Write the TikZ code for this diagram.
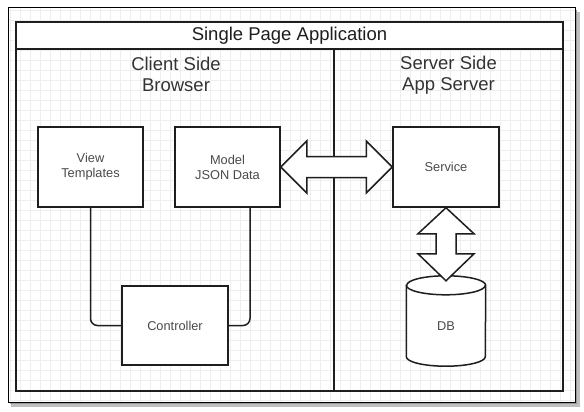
\documentclass[tikz,border=0pt]{standalone}
\usepackage{fontspec}
\setmainfont{Liberation Sans}
\usetikzlibrary{calc}
\definecolor{inkline}{HTML}{1E1E1E}
\definecolor{inktext}{HTML}{333333}
\definecolor{boxtext}{HTML}{4A4A4A}
\definecolor{gridgray}{HTML}{EEEEEE}
\tikzset{
  wire/.style={draw=inkline, line width=1.5pt},
  block/.style={draw=inkline, line width=1.5pt, fill=white, minimum width=105, minimum height=80,
    align=center, text=boxtext, font=\fontsize{12.8}{15}\selectfont},
  heading/.style={align=center, text=inktext, inner sep=0pt, font=\fontsize{18.5}{21}\selectfont},
  fatarrow/.style={draw=inkline, line width=1.5pt, fill=white, line join=miter}
}
\begin{document}
\begin{tikzpicture}[x=1pt, y=1pt]
\useasboundingbox (0,0) rectangle (584,-412);
% page frame with shadow and grid
\fill[black!25] (11,-12) rectangle (580,-407);
\fill[black!40] (10,-10) rectangle (577,-404);
\fill[white] (8,-8) rectangle (575,-402);
\draw[gridgray, line width=0.5pt, step=10] (8,-402) grid (575,-8);
\draw[black, line width=1pt] (8,-8) rectangle (575,-402);
% container
\draw[wire, fill=white] (16,-22) rectangle (563,-49);
\draw[wire] (16,-49) rectangle (563,-391);
\draw[wire] (334,-49) -- (334,-391);
\node[heading, text=inkline] (title) at (289.5,-35.5) {Single Page Application};
\node[heading] (client) at (176,-74) {Client Side\\Browser};
\node[heading] (server) at (448.5,-75.5) {Server Side\\App Server};
% boxes
\node[block] (view) at (90.5,-167) {View\\Templates};
\node[block] (model) at (227.5,-167) {Model\\JSON Data};
\node[block, minimum width=106] (service) at (446,-167) {Service};
\node[block, minimum width=106, minimum height=79] (ctrl) at (175,-325.5) {Controller};
\node[minimum width=79, minimum height=90, inner sep=0pt] (db) at (446,-321) {};
\coordinate (dbtip) at ([yshift=-5pt]db.north);
% lines to the controller
\draw[wire, rounded corners=7] (view.south) |- (ctrl.west);
\draw[wire, rounded corners=7] ([xshift=22.5pt]model.south) |- (ctrl.east);
% database
\draw[wire, fill=white] ([yshift=-9.5pt]db.north west) -- ([yshift=9.5pt]db.south west)
  arc[start angle=180, end angle=360, x radius=39.5, y radius=9.5]
  -- ([yshift=-9.5pt]db.north east)
  arc[start angle=0, end angle=180, x radius=39.5, y radius=9.5] -- cycle;
\draw[wire] ([yshift=-9.5pt]db.north west) arc[start angle=180, end angle=360, x radius=39.5, y radius=9.5];
\node[text=boxtext, font=\fontsize{12.8}{15}\selectfont] (dblabel) at (446,-326) {DB};
% double arrows
\draw[fatarrow] (model.east) -- ++(26,26) -- ++(0,-15.5) -- ($(service.west)+(-26,10.5)$)
  -- ++(0,15.5) -- (service.west) -- ++(-26,-26) -- ++(0,15.5)
  -- ($(model.east)+(26,-10.5)$) -- ++(0,-15.5) -- cycle;
\draw[fatarrow] (service.south) -- ++(28,-26) -- ++(-18,0) -- ($(dbtip)+(10,27)$)
  -- ++(18,0) -- (dbtip) -- ++(-28,27) -- ++(18,0)
  -- ($(service.south)+(-10,-26)$) -- ++(-18,0) -- cycle;
\end{tikzpicture}
\end{document}
